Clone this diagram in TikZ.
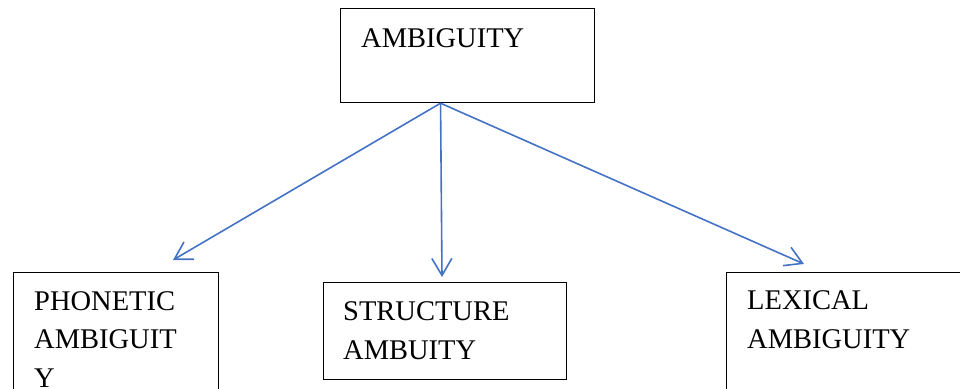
\documentclass[tikz,border=0pt]{standalone}
\usepackage{fontspec}
\setmainfont{Liberation Serif}
\usetikzlibrary{arrows.meta,calc}
\definecolor{linkblue}{HTML}{4472C4}
\begin{document}
\begin{tikzpicture}[x=1pt, y=-1pt,
  box/.style = {draw, line width=1.2pt, rectangle, inner sep=0pt, anchor=north west},
  lbl/.style = {anchor=base west, inner sep=0pt, align=left, font=\fontsize{28.5}{38.5}\selectfont},
  link/.style = {draw=linkblue, line width=1.6pt, -{Straight Barb[length=17pt,width=20pt]}}
  ]
  \useasboundingbox (0,0) rectangle (960,388);
  \clip (0,0) rectangle (960,388);
  \node[box, minimum width=254pt, minimum height=94pt] (amb) at (340,8) {};
  \node[box, minimum width=205pt, minimum height=150pt] (phon) at (13,272) {};
  \node[box, minimum width=243pt, minimum height=97pt] (struct) at (323,282) {};
  \node[box, minimum width=260pt, minimum height=150pt] (lex) at (726,272) {};
  \node[lbl] (ambtxt) at (361,47) {AMBIGUITY};
  \node[lbl] (phontxt) at (34,387) {PHONETIC\\AMBIGUIT\\Y};
  \node[lbl] (structtxt) at (343,359) {STRUCTURE\\AMBUITY};
  \node[lbl] (lextxt) at (747,348) {LEXICAL\\AMBIGUITY};
  \coordinate (src) at ($(amb.south west)!0.394!(amb.south east)$);
  \coordinate (phontip) at ($(phon.north west)+(160,-12)$);
  \coordinate (structtip) at ($(struct.north west)+(119,-5)$);
  \coordinate (lextip) at ($(lex.north west)+(78,-8)$);
  \draw[link] (src) -- (phontip);
  \draw[link] (src) -- (structtip);
  \draw[link] (src) -- (lextip);
\end{tikzpicture}
\end{document}
